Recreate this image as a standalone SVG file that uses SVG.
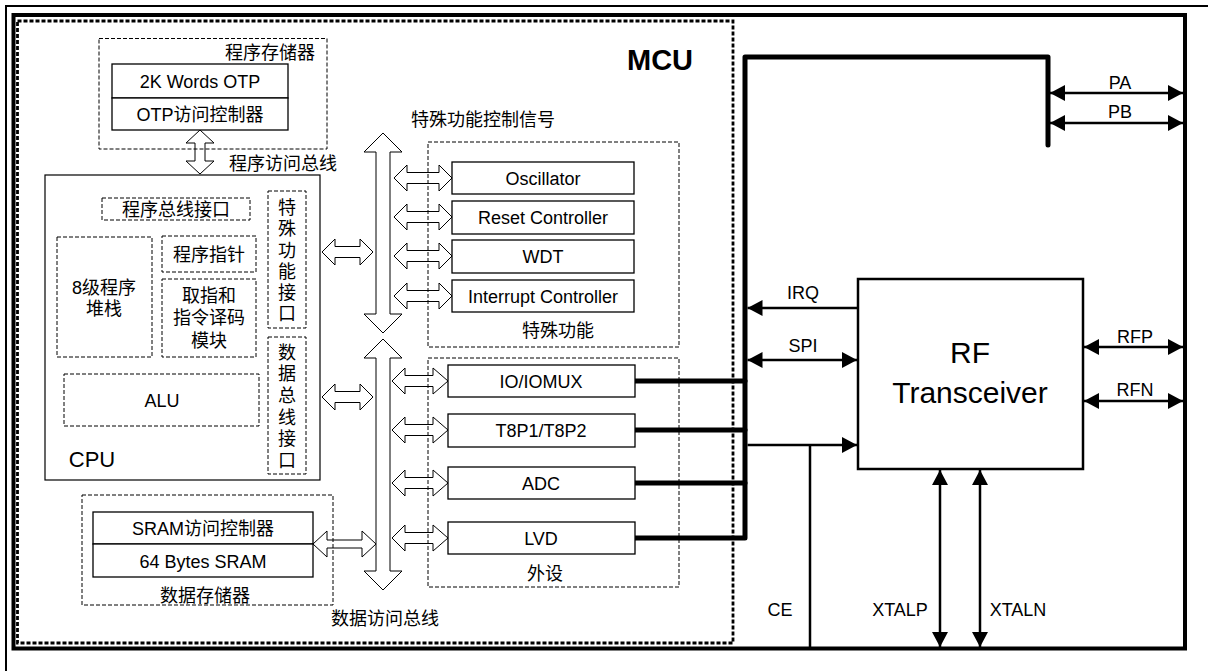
<svg xmlns="http://www.w3.org/2000/svg" xmlns:xlink="http://www.w3.org/1999/xlink" width="1208" height="671" viewBox="0 0 1208 671">
<style>
.t{font-family:"Liberation Sans","Noto Sans CJK SC",sans-serif;font-size:18px;fill:#000;text-anchor:middle}
.dash{fill:none;stroke:#000;stroke-width:1;stroke-dasharray:4 2}
.box{fill:#fff;stroke:#000;stroke-width:1.3}
.hol{fill:#fff;stroke:#000;stroke-width:1}
.wire{stroke:#000;stroke-width:2.5;fill:none}
.bus{stroke:#000;stroke-width:5;fill:none;stroke-linecap:round;stroke-linejoin:round}
</style>
<defs>
<marker id="arr" viewBox="0 0 15 16" refX="15" refY="8" markerWidth="15" markerHeight="16" markerUnits="userSpaceOnUse" orient="auto-start-reverse">
<path d="M0,0 L15,8 L0,16 z" fill="#000"/>
</marker>
<polygon id="hs" class="hol" points="394,0 407,-13 407,-5.5 439,-5.5 439,-13 452,0 439,13 439,5.5 407,5.5 407,13"/>
<polygon id="hp" class="hol" points="392,0 405,-13 405,-5.5 433,-5.5 433,-13 448,0 433,13 433,5.5 405,5.5 405,13"/>
</defs>
<rect width="1208" height="671" fill="#fff"/>
<!-- outer frames -->
<g id="frame">
<path d="M6,671 V6 H1208" fill="none" stroke="#000" stroke-width="2"/>
<rect x="13.5" y="15" width="1171.5" height="633.5" fill="none" stroke="#000" stroke-width="4"/>
</g>
<!-- connectors -->
<g id="connectors">
<polygon class="hol" points="200,130 214,143 205,143 205,161 214,161 200,174 186,161 195,161 195,143 186,143"/>
<polygon class="hol" points="383,133 402,152 390,152 390,314 402,314 383,333 364,314 376,314 376,152 364,152"/>
<polygon class="hol" points="383,339 402,358 390,358 390,571 402,571 383,590 364,571 376,571 376,358 364,358"/>
<polygon class="hol" points="322,252 335,239 335,246.5 360,246.5 360,239 373,252 360,265 360,257.5 335,257.5 335,265"/>
<polygon class="hol" points="322,397 335,384 335,391.5 360,391.5 360,384 373,397 360,410 360,402.5 335,402.5 335,410"/>
<polygon class="hol" points="313,544 327,531 327,540 362,540 362,531 376,544 362,557 362,548 327,548 327,557"/>
<use xlink:href="#hs" y="178"/>
<use xlink:href="#hs" y="217"/>
<use xlink:href="#hs" y="256"/>
<use xlink:href="#hs" y="296"/>
<use xlink:href="#hp" y="381"/>
<use xlink:href="#hp" y="430"/>
<use xlink:href="#hp" y="483"/>
<use xlink:href="#hp" y="538"/>
<path class="bus" d="M635,538 H745 V57 H1048 V145"/>
<path class="bus" d="M635,381 H745 M635,430 H745 M635,483 H745"/>
<line class="wire" x1="1050" y1="93" x2="1183" y2="93" marker-start="url(#arr)" marker-end="url(#arr)"/>
<line class="wire" x1="1050" y1="123" x2="1183" y2="123" marker-start="url(#arr)" marker-end="url(#arr)"/>
<line class="wire" x1="858" y1="308" x2="747.5" y2="308" marker-end="url(#arr)"/>
<line class="wire" x1="747.5" y1="360" x2="857" y2="360" marker-start="url(#arr)" marker-end="url(#arr)"/>
<line class="wire" x1="747.5" y1="445" x2="857" y2="445" marker-end="url(#arr)"/>
<line class="wire" x1="810" y1="445" x2="810" y2="647"/>
<line class="wire" x1="1084" y1="347" x2="1183" y2="347" marker-start="url(#arr)" marker-end="url(#arr)"/>
<line class="wire" x1="1084" y1="401" x2="1183" y2="401" marker-start="url(#arr)" marker-end="url(#arr)"/>
<line class="wire" x1="940" y1="470" x2="940" y2="647" marker-start="url(#arr)" marker-end="url(#arr)"/>
<line class="wire" x1="980" y1="470" x2="980" y2="647" marker-start="url(#arr)" marker-end="url(#arr)"/>
<text class="t" x="1120" y="89">PA</text>
<text class="t" x="1120" y="118">PB</text>
<text class="t" x="803" y="299">IRQ</text>
<text class="t" x="803" y="352">SPI</text>
<text class="t" x="1135" y="343">RFP</text>
<text class="t" x="1135" y="396">RFN</text>
<text class="t" x="780" y="616">CE</text>
<text class="t" x="900" y="616">XTALP</text>
<text class="t" x="1018" y="616">XTALN</text>
<text class="t" x="283" y="169.5">程序访问总线</text>
<text class="t" x="483" y="126">特殊功能控制信号</text>
<text class="t" x="385" y="624.5">数据访问总线</text>
</g>
<!-- MCU -->
<g id="mcu">
<rect x="17.5" y="21" width="715.5" height="622" fill="none" stroke="#000" stroke-width="2.8" stroke-dasharray="4 2"/>
<text class="t" x="660" y="70" style="font-size:29px;font-weight:bold">MCU</text>
</g>
<g id="program-memory">
<rect class="dash" x="99" y="38.5" width="228" height="110.5"/>
<text class="t" x="270" y="58.5">程序存储器</text>
<rect class="box" x="112" y="64" width="176" height="34"/>
<text class="t" x="200" y="87.5">2K Words OTP</text>
<rect class="box" x="112" y="98" width="176" height="32"/>
<text class="t" x="200" y="120.5">OTP访问控制器</text>
</g>
<g id="cpu">
<rect x="45" y="175" width="275" height="305" fill="none" stroke="#000" stroke-width="1.2"/>
<text class="t" x="92" y="467" style="font-size:22px">CPU</text>
<rect class="dash" x="102" y="198" width="148" height="22"/>
<text class="t" x="176" y="215.5">程序总线接口</text>
<rect class="dash" x="57" y="237" width="95" height="120"/>
<text class="t" x="104" y="293.5">8级程序</text>
<text class="t" x="104" y="314.5">堆栈</text>
<rect class="dash" x="162" y="236" width="94" height="36"/>
<text class="t" x="209" y="260.5">程序指针</text>
<rect class="dash" x="162" y="279" width="94" height="78"/>
<text class="t" x="209" y="301.5">取指和</text>
<text class="t" x="209" y="323.5">指令译码</text>
<text class="t" x="209" y="346.5">模块</text>
<rect class="dash" x="64" y="374" width="195" height="52"/>
<text class="t" x="162" y="406.5">ALU</text>
<rect class="dash" x="268" y="191" width="38" height="137"/>
<text class="t" x="287" y="213.5">特</text>
<text class="t" x="287" y="234.5">殊</text>
<text class="t" x="287" y="256.5">功</text>
<text class="t" x="287" y="277.5">能</text>
<text class="t" x="287" y="298.5">接</text>
<text class="t" x="287" y="319.5">口</text>
<rect class="dash" x="268" y="337" width="38" height="137"/>
<text class="t" x="287" y="358.5">数</text>
<text class="t" x="287" y="379.5">据</text>
<text class="t" x="287" y="401.5">总</text>
<text class="t" x="287" y="423.5">线</text>
<text class="t" x="287" y="444.5">接</text>
<text class="t" x="287" y="466.5">口</text>
</g>
<g id="special-functions">
<rect class="dash" x="428" y="142" width="251" height="205"/>
<text class="t" x="558" y="336.5">特殊功能</text>
<rect class="box" x="452" y="162" width="182" height="32"/>
<text class="t" x="543" y="184.5">Oscillator</text>
<rect class="box" x="452" y="201" width="182" height="33"/>
<text class="t" x="543" y="223.5">Reset Controller</text>
<rect class="box" x="452" y="240" width="182" height="33"/>
<text class="t" x="543" y="262.5">WDT</text>
<rect class="box" x="452" y="280" width="182" height="32"/>
<text class="t" x="543" y="302.5">Interrupt Controller</text>
</g>
<g id="peripherals">
<rect class="dash" x="428" y="358" width="251" height="229"/>
<text class="t" x="545" y="579.5">外设</text>
<rect class="box" x="448" y="365" width="187" height="32"/>
<text class="t" x="541" y="387.5">IO/IOMUX</text>
<rect class="box" x="448" y="414" width="187" height="33"/>
<text class="t" x="541" y="436.5">T8P1/T8P2</text>
<rect class="box" x="448" y="467" width="187" height="32"/>
<text class="t" x="541" y="489.5">ADC</text>
<rect class="box" x="448" y="522" width="187" height="32"/>
<text class="t" x="541" y="544.5">LVD</text>
</g>
<g id="data-memory">
<rect class="dash" x="82" y="495" width="251" height="110"/>
<rect class="box" x="93" y="512" width="220" height="32"/>
<text class="t" x="203" y="534.5">SRAM访问控制器</text>
<rect class="box" x="93" y="544" width="220" height="33"/>
<text class="t" x="203" y="567.5">64 Bytes SRAM</text>
<text class="t" x="205" y="601.5">数据存储器</text>
</g>
<g id="rf-transceiver">
<rect x="858" y="279" width="225" height="190" fill="#fff" stroke="#000" stroke-width="2.5"/>
<text class="t" x="970" y="363" style="font-size:30px">RF</text>
<text class="t" x="970" y="403" style="font-size:30px">Transceiver</text>
</g>
</svg>
